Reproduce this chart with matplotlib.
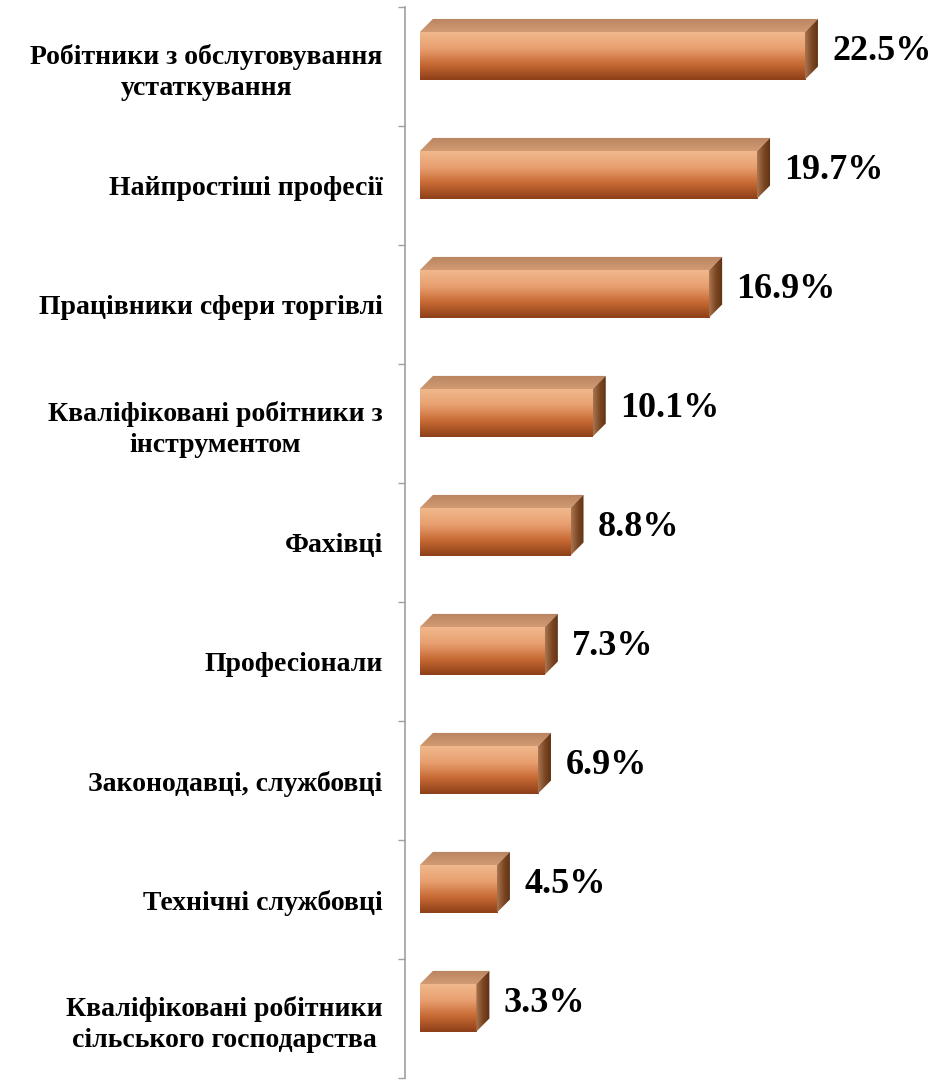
import matplotlib.pyplot as plt
import numpy as np
from matplotlib.colors import LinearSegmentedColormap
from matplotlib.patches import Polygon

categories = [
    "Робітники з обслуговування\nустаткування",
    "Найпростіші професії",
    "Працівники сфери торгівлі",
    "Кваліфіковані робітники з\nінструментом",
    "Фахівці",
    "Професіонали",
    "Законодавці, службовці",
    "Технічні службовці",
    "Кваліфіковані робітники\nсільського господарства",
]
values = [22.5, 19.7, 16.9, 10.1, 8.8, 7.3, 6.9, 4.5, 3.3]
value_labels = [f"{v:.1f}%" for v in values]

SERIF = ["Liberation Serif", "DejaVu Serif"]
BAR_H = 0.40        # front face height (fraction of a band)
BAR_SHIFT = -0.09   # front face centre relative to band centre
DEPTH_X = 0.76      # 3d depth in data units
DEPTH_Y = 0.11

front_cmap = LinearSegmentedColormap.from_list(
    "front", ["#f0b88c", "#e8a070", "#c86a35", "#8e4018"])
side_cmap = LinearSegmentedColormap.from_list(
    "side", ["#a87550", "#7c4722", "#5e3014"])
top_cmap = LinearSegmentedColormap.from_list(
    "top", ["#b98460", "#d19a72"])


def draw_bar(ax, y, value):
    top = y + BAR_SHIFT - BAR_H / 2
    bottom = y + BAR_SHIFT + BAR_H / 2

    # front face with vertical gradient
    front = ax.barh(y + BAR_SHIFT, value, height=BAR_H, left=0,
                    color="none", edgecolor="none", zorder=2)[0]
    grad = np.linspace(0, 1, 64).reshape(-1, 1)
    im = ax.imshow(grad, cmap=front_cmap, aspect="auto",
                   extent=(0, value, bottom, top), origin="upper", zorder=2)
    im.set_clip_path(front)

    # top face
    top_face = Polygon(
        [(0, top), (DEPTH_X, top - DEPTH_Y), (value + DEPTH_X, top - DEPTH_Y), (value, top)],
        closed=True, facecolor="none", edgecolor="none", zorder=3)
    ax.add_patch(top_face)
    tim = ax.imshow(np.linspace(0, 1, 16).reshape(-1, 1), cmap=top_cmap, aspect="auto",
                    extent=(0, value + DEPTH_X, top, top - DEPTH_Y),
                    origin="upper", zorder=3)
    tim.set_clip_path(top_face)

    # right side face
    side = Polygon(
        [(value, top), (value + DEPTH_X, top - DEPTH_Y),
         (value + DEPTH_X, bottom - DEPTH_Y), (value, bottom)],
        closed=True, facecolor="none", edgecolor="none", zorder=3)
    ax.add_patch(side)
    sim = ax.imshow(np.linspace(0, 1, 32).reshape(1, -1), cmap=side_cmap, aspect="auto",
                    extent=(value, value + DEPTH_X, bottom, top - DEPTH_Y),
                    origin="upper", zorder=3)
    sim.set_clip_path(side)


fig = plt.figure(figsize=(9.35, 10.82), dpi=100)
ax = fig.add_axes([0.433, 0.0037, 0.567, 0.9898])

for i, v in enumerate(values):
    draw_bar(ax, i, v)
    ax.text(v + 1.6, i - 0.125, value_labels[i], ha="left", va="center",
            fontsize=26, fontweight="bold", family=SERIF, color="black")

ax.set_xlim(-0.88, 30.1)
ax.set_ylim(len(values) - 0.5, -0.5)

ax.set_yticks(range(len(categories)))
ax.set_yticklabels(categories, fontsize=20, fontweight="bold", family=SERIF)
for lbl in ax.get_yticklabels():
    lbl.set_multialignment("center")
    lbl.set_linespacing(1.3)
ax.tick_params(axis="y", which="major", length=0, pad=16)
ax.set_yticks(np.arange(-0.5, len(values), 1.0), minor=True)
ax.tick_params(axis="y", which="minor", length=5, width=1, color="#a0a0a0", direction="out")
ax.set_xticks([])

for side in ["top", "right", "bottom"]:
    ax.spines[side].set_visible(False)
ax.spines["left"].set_color("#a0a0a0")
ax.spines["left"].set_linewidth(1.2)
ax.set_facecolor("white")

fig.savefig("out.png", dpi=100)
